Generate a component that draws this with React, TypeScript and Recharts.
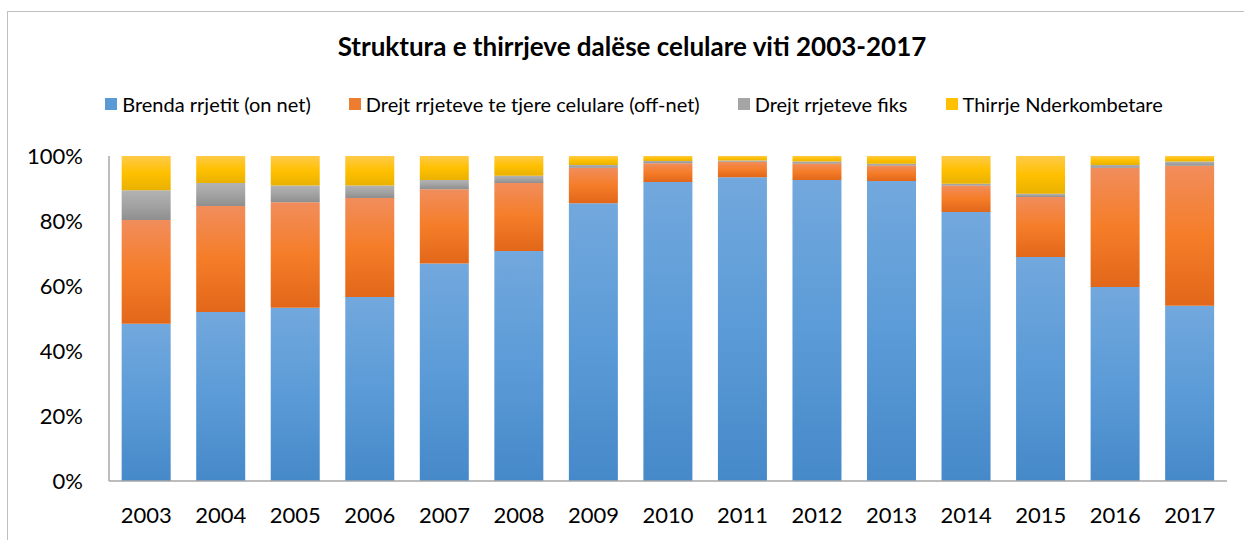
import { BarChart, Bar, XAxis, YAxis } from 'recharts'

const years = ['2003', '2004', '2005', '2006', '2007', '2008', '2009', '2010', '2011', '2012', '2013', '2014', '2015', '2016', '2017']

// shares in %
const onNet   = [48.4, 52.0, 53.3, 56.6, 66.9, 70.8, 85.5, 92.0, 93.5, 92.6, 92.3, 82.8, 68.9, 59.7, 53.9]
const offNet  = [31.9, 32.6, 32.5, 30.5, 22.9, 20.9, 10.9,  5.8,  4.7,  5.1,  4.8,  8.1, 18.5, 36.7, 43.1]
const fixed   = [ 9.2,  7.1,  5.1,  3.8,  2.8,  2.2,  0.8,  0.7,  0.4,  0.6,  0.5,  0.6,  1.0,  0.8,  1.3]
const intl    = [10.5,  8.3,  9.1,  9.1,  7.4,  6.1,  2.8,  1.5,  1.4,  1.7,  2.4,  8.5, 11.6,  2.8,  1.7]

const yTicks = [0, 0.2, 0.4, 0.6, 0.8, 1]

const SERIES = [
  { key: 'onNet',  name: 'Brenda rrjetit (on net)',                   stops: ['#72a8dd', '#5b9bd7', '#4689c9'], swatch: '#5b9bd5' },
  { key: 'offNet', name: 'Drejt rrjeteve te tjere celulare (off-net)', stops: ['#f18d5c', '#f57d28', '#e2671a'], swatch: '#ed7d31' },
  { key: 'fixed',  name: 'Drejt rrjeteve fiks',                        stops: ['#b3b3b3', '#a3a3a3', '#8f8f8f'], swatch: '#a5a5a5' },
  { key: 'intl',   name: 'Thirrje Nderkombetare',                      stops: ['#ffca48', '#ffc000', '#e9b100'], swatch: '#ffc000' },
]

const data = years.map((year, i) => ({
  year,
  onNet:  onNet[i],
  offNet: offNet[i],
  fixed:  fixed[i],
  intl:   intl[i],
}))

const FONT = 'Lato, "Open Sans", sans-serif'

// legend drawn above the plot, outside the chart's layout
const LegendRow = () => (
  <div
    style={{
      position: 'absolute',
      left: 0,
      top: 92,
      width: 1244,
      display: 'flex',
      justifyContent: 'center',
      gap: 38,
      fontFamily: FONT,
      fontSize: 20,
      color: '#000',
      paddingLeft: 24,
      boxSizing: 'border-box',
    }}
  >
    {SERIES.map((s) => (
      <div key={s.key} style={{ display: 'flex', alignItems: 'center' }}>
        <span style={{ display: 'inline-block', width: 12, height: 12, background: s.swatch, marginRight: 5 }} />
        <span>{s.name}</span>
      </div>
    ))}
  </div>
)

export default function App() {
  return (
    <div style={{ position: 'absolute', left: 0, top: 0, width: 1244, height: 540, background: '#fff', overflow: 'hidden' }}>
      <div
        style={{
          position: 'absolute',
          left: 7,
          top: 11,
          width: 1260,
          height: 560,
          borderTop: '1px solid #bfbfbf',
          borderLeft: '1px solid #bfbfbf',
        }}
      />
      <div
        style={{
          position: 'absolute',
          left: 0,
          top: 30,
          width: 1244,
          paddingLeft: 20,
          boxSizing: 'border-box',
          textAlign: 'center',
          fontFamily: FONT,
          fontWeight: 700,
          fontSize: 26,
          color: '#000',
        }}
      >
        Struktura e thirrjeve dalëse celulare viti 2003-2017
      </div>
      <LegendRow />
      <BarChart
        width={1244}
        height={540}
        data={data}
        stackOffset="expand"
        barCategoryGap="17%"
        margin={{ top: 156, right: 17, bottom: 0, left: 0 }}
        style={{ position: 'absolute', left: 0, top: 0 }}
      >
        <defs>
          {SERIES.map((s) => (
            <linearGradient key={s.key} id={`grad-${s.key}`} x1="0" y1="0" x2="0" y2="1">
              <stop offset="0%" stopColor={s.stops[0]} />
              <stop offset="50%" stopColor={s.stops[1]} />
              <stop offset="100%" stopColor={s.stops[2]} />
            </linearGradient>
          ))}
        </defs>
        <XAxis
          dataKey="year"
          height={59}
          tickLine={false}
          tickSize={0}
          tickMargin={26}
          axisLine={{ stroke: '#a6a6a6', strokeWidth: 1.5 }}
          tick={{ fill: '#000', fontSize: 22, fontFamily: FONT }}
          interval={0}
        />
        <YAxis
          width={109}
          domain={[0, 1]}
          ticks={yTicks}
          tickFormatter={(v: number) => `${Math.round(v * 100)}%`}
          tickLine={false}
          tickSize={0}
          tickMargin={26}
          axisLine={{ stroke: '#a6a6a6', strokeWidth: 1.5 }}
          tick={{ fill: '#000', fontSize: 22, fontFamily: FONT }}
        />
        {SERIES.map((s) => (
          <Bar
            key={s.key}
            dataKey={s.key}
            name={s.name}
            stackId="a"
            fill={`url(#grad-${s.key})`}
            isAnimationActive={false}
          />
        ))}
      </BarChart>
    </div>
  )
}
